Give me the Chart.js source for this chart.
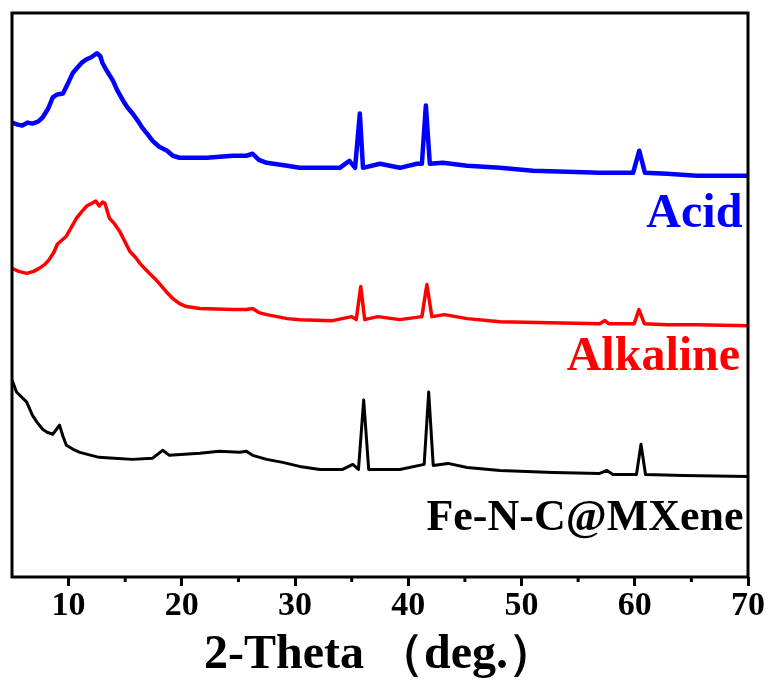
<!DOCTYPE html>
<html>
<head>
<meta charset="utf-8">
<script src="https://cdn.jsdelivr.net/npm/chart.js@4.4.0/dist/chart.umd.min.js"></script>
<style>
  html, body { margin: 0; padding: 0; background: #fff; }
  #wrap { width: 769px; height: 680px; }
</style>
</head>
<body>
<div id="wrap"><canvas id="chart"></canvas></div>
<script>
// 2-theta (deg) and offset intensity (a.u.)
var acidX = [5.0, 5.5, 5.9, 6.4, 6.8, 7.3, 7.7, 8.2, 8.6, 9.0, 9.5, 9.9, 10.35, 10.8, 11.2, 11.6, 12.0, 12.5, 12.8, 13.0, 13.4, 13.9, 14.3, 14.8, 15.2, 15.65, 16.1, 16.5, 17.0, 17.4, 18.0, 18.7, 19.2, 19.8, 20.4, 22.2, 24.5, 25.7, 26.25, 26.8, 27.5, 29.3, 30.4, 32.2, 33.95, 34.8, 35.3, 35.72, 36.0, 37.5, 39.25, 40.75, 41.2, 41.55, 41.9, 43.05, 45.2, 48.1, 51.0, 54.0, 56.9, 59.85, 60.4, 60.9, 62.85, 65.5, 70.0];
var acidY = [452, 450, 449, 452, 451, 453, 457, 466, 477, 480, 481, 490, 501, 507, 512, 515, 517, 521, 518, 511, 503, 494, 484, 474, 467, 461, 454, 447, 440, 434, 428, 424, 419, 417, 417, 417, 419, 419, 421, 415, 412, 409, 407, 407, 407, 414, 407, 461, 407, 411, 407, 411, 411, 469, 411, 412, 409, 407, 404, 403, 402, 402, 424, 402, 401, 399, 399];

var alkX = [5.0, 5.6, 6.3, 6.9, 7.4, 7.9, 8.3, 8.7, 9.0, 9.4, 9.8, 10.3, 10.7, 11.2, 11.6, 12.1, 12.4, 12.7, 13.0, 13.2, 13.6, 14.0, 14.5, 15.0, 15.4, 15.9, 16.3, 16.7, 17.15, 17.6, 18.0, 18.6, 19.2, 19.8, 20.4, 21.6, 24.5, 25.7, 26.25, 26.8, 27.5, 29.3, 30.4, 33.3, 35.0, 35.4, 35.8, 36.15, 37.3, 39.25, 41.2, 41.64, 42.08, 43.2, 45.2, 48.1, 52.5, 56.9, 57.36, 57.7, 59.95, 60.37, 60.85, 62.85, 65.5, 70.0];
var alkY = [307, 304, 302, 304, 307, 311, 316, 323, 331, 335, 339, 349, 357, 364, 369, 372, 374, 369, 373, 372, 357, 352, 344, 333, 324, 318, 312, 307, 302, 297, 292, 284, 277, 272, 269, 267, 266, 266, 267, 263, 261, 257, 256, 255, 259, 256, 289, 256, 259, 256, 259, 291, 259, 261, 257, 254, 253, 252, 255, 252, 252, 266, 252, 251, 251, 250];

var mxX = [5.0, 5.4, 6.3, 6.8, 7.2, 7.7, 8.1, 8.6, 9.2, 9.5, 9.8, 10.4, 11.0, 12.0, 12.7, 14.0, 15.65, 17.4, 18.3, 18.9, 21.6, 23.3, 25.1, 25.7, 26.25, 27.5, 28.9, 30.4, 32.2, 34.2, 35.1, 35.6, 36.06, 36.5, 39.25, 41.4, 41.8, 42.2, 43.5, 45.2, 48.1, 52.8, 56.9, 57.54, 58.07, 60.15, 60.55, 60.95, 64.26, 70.0];
var mxY = [196, 184, 174, 161, 154, 147, 144, 142, 151, 140, 131, 127, 124, 121, 119, 118, 117, 118, 126, 121, 123, 125, 124, 125, 121, 117, 114, 110, 107, 107, 112, 107, 176, 107, 107, 112, 184, 111, 113, 109, 106, 104, 103, 106, 102, 102, 132, 102, 101, 100];

var tickValues = [10, 20, 30, 40, 50, 60, 70];
var minorTicks = [15, 25, 35, 45, 55, 65];

var seriesNames = ['Acid', 'Alkaline', 'Fe-N-C@MXene'];
var seriesColors = ['#0000ff', '#ff0000', '#000000'];
var labelX = [69.5, 69.3, 69.6];
var labelY = [348, 206, 47];

function pairs(xs, ys) {
  return xs.map(function (x, i) { return { x: x, y: ys[i] }; });
}

var serif = "'Liberation Serif', 'Times New Roman', serif";

var framePlugin = {
  id: 'frame',
  afterDatasetsDraw: function (chart) {
    var ctx = chart.ctx, a = chart.chartArea, xs = chart.scales.x;
    ctx.save();
    ctx.strokeStyle = '#000';
    ctx.lineWidth = 3;
    ctx.strokeRect(a.left, a.top, a.right - a.left, a.bottom - a.top);
    // minor ticks
    minorTicks.forEach(function (v) {
      var px = xs.getPixelForValue(v);
      ctx.beginPath();
      ctx.moveTo(px, a.bottom);
      ctx.lineTo(px, a.bottom + 5);
      ctx.stroke();
    });
    // series names
    ctx.textAlign = 'right';
    ctx.textBaseline = 'alphabetic';
    seriesNames.forEach(function (name, i) {
      ctx.fillStyle = seriesColors[i];
      ctx.font = 'bold ' + (i === 2 ? 44 : 48) + 'px ' + serif;
      ctx.fillText(name, xs.getPixelForValue(labelX[i]), chart.scales.y.getPixelForValue(labelY[i]));
    });
    ctx.restore();
  }
};

new Chart(document.getElementById('chart'), {
  type: 'line',
  data: {
    datasets: [
      { label: seriesNames[0], data: pairs(acidX, acidY), borderColor: seriesColors[0], borderWidth: 4.5 },
      { label: seriesNames[1], data: pairs(alkX, alkY), borderColor: seriesColors[1], borderWidth: 3.5 },
      { label: seriesNames[2], data: pairs(mxX, mxY), borderColor: seriesColors[2], borderWidth: 3 }
    ]
  },
  options: {
    responsive: true,
    maintainAspectRatio: false,
    animation: false,
    layout: { padding: { left: 12, right: 21, top: 13, bottom: 0 } },
    elements: { point: { radius: 0 }, line: { tension: 0, borderJoinStyle: 'round' } },
    plugins: { legend: { display: false }, tooltip: { enabled: false } },
    scales: {
      x: {
        type: 'linear',
        min: 5,
        max: 70,
        afterBuildTicks: function (scale) {
          scale.ticks = tickValues.map(function (v) { return { value: v }; });
        },
        border: { display: false },
        grid: { drawOnChartArea: false, tickLength: 9, tickWidth: 3, tickColor: '#000' },
        ticks: { color: '#000', padding: 3, maxRotation: 0, font: { family: serif, size: 34, weight: 'bold', lineHeight: 1 } },
        title: {
          display: true,
          text: '2-Theta （deg.）',
          color: '#000',
          padding: { top: 6, bottom: 0 },
          font: { family: serif, size: 48, weight: 'bold', lineHeight: 1 }
        }
      },
      y: {
        type: 'linear',
        min: 0,
        max: 561,
        display: false
      }
    }
  },
  plugins: [framePlugin]
});
</script>
</body>
</html>
